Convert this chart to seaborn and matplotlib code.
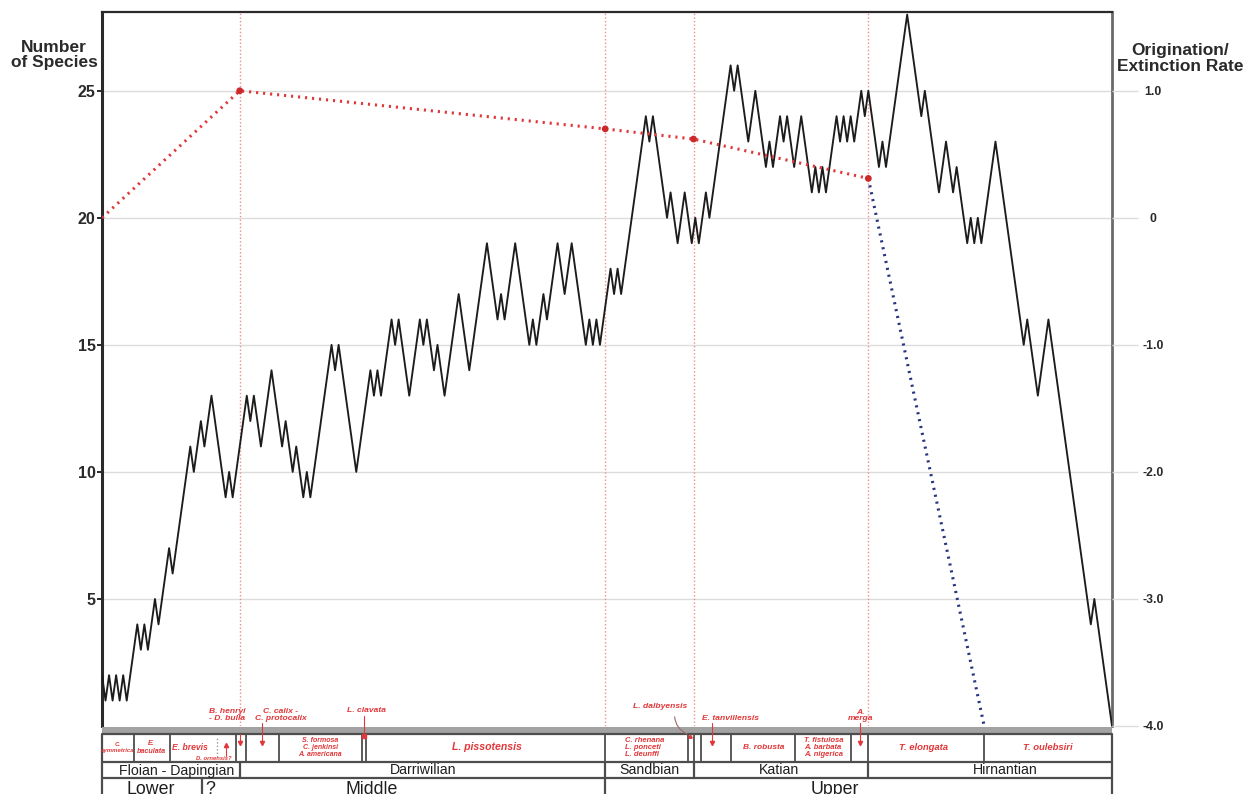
import numpy as np
import pandas as pd
import matplotlib
matplotlib.use("Agg")
import matplotlib.pyplot as plt
from matplotlib.patches import Rectangle
import seaborn as sns

# ---------------------------------------------------------------- data
# species richness at each turning point; every unit change is one event
species_counts = [
    2, 1, 2, 1, 2, 1, 2, 1,
    4, 3, 4, 3, 5, 4, 7, 6, 11, 10, 12, 11, 13, 9, 10, 9, 13, 12, 13, 11,
    14, 11, 12, 10, 11, 9, 10, 9,
    15, 14, 15, 10, 14, 13, 14, 13, 16, 15, 16, 13, 16, 15, 16, 14, 15, 13,
    17, 14, 19, 16, 17, 16, 19, 15, 16, 15, 17, 16, 19, 17, 19, 15, 16, 15,
    16, 15, 18, 17, 18, 17,
    24, 23, 24, 20, 21, 19, 21, 19, 20, 19, 21, 20, 26, 25, 26, 23, 25, 22,
    23, 22, 24, 23, 24, 22, 24, 21, 22, 21, 22, 21, 24, 23, 24, 23, 24, 23,
    25, 24, 25, 22, 23, 22,
    28, 24, 25, 21, 23, 21, 22, 19, 20, 19, 20, 19, 23, 15, 16, 13, 16, 4, 5, 0,
]

# stages and series (boundaries in event units)
stage_names = ["Floian - Dapingian", "Darriwilian", "Sandbian", "Katian", "Hirnantian"]
stage_bounds = [0, 39.0, 142.5, 167.5, 217.0, 286]
stage_label_pos = [21.0, 90.8, 155.0, 191.6, 255.9]

series_names = ["Lower", "Middle", "Upper"]
series_bounds = [0, 28.2, 142.5, 286]
series_label_pos = [13.9, 76.4, 207.6]

# origination / extinction rate at stage boundaries
rate_pos = [0, 39.0, 142.5, 167.5, 217.0]
rate_vals = [0.0, 1.0, 0.70, 0.62, 0.31]
proj_pos = [217.0, 249.8]
proj_vals = [0.31, -4.0]

# biozones
zone_bounds = [0, 9.1, 19.2, 38.0, 40.8, 50.1, 73.5, 74.8, 142.5, 165.8,
               167.5, 169.5, 178.0, 196.2, 212.1, 217.0, 249.8, 286]
zone_labels = ["C.\nsymmetrica", "E.\nbaculata", "E. brevis",
               "S. formosa\nC. jenkinsi\nA. americana", "L. pissotensis",
               "C. rhenana\nL. ponceti\nL. deunffi", "B. robusta",
               "T. fistulosa\nA. barbata\nA. nigerica", "T. elongata", "T. oulebsiri"]
zone_label_pos = [4.5, 14.1, 24.8, 61.8, 109.0, 153.7, 187.3, 204.5, 232.5, 267.9]

# zone markers above the bar
marker_labels = ["B. henryi\n- D. bulla", "C. calix -\nC. protocalix", "L. clavata",
                 "L. dalbyensis", "E. tanvillensis", "A.\nmerga"]
marker_label_pos = [35.5, 50.6, 74.8, 158.1, 178.0, 214.9]

counts = np.array(species_counts)
event_pos = np.concatenate([[0], np.cumsum(np.abs(np.diff(counts)))])
curve = pd.DataFrame({"event": event_pos, "species": counts})
n_events = event_pos[-1]

# ---------------------------------------------------------------- style
sns.set_theme(style="white")
plt.rcParams["font.family"] = ["Liberation Sans", "DejaVu Sans"]

RED = "#e0383a"
RED_LIGHT = "#f08c8c"
BLUE = "#27347f"
DARK = "#2a2a2a"
FRAME = "#4d4d4d"
GRID = "#dcdcdc"

W, H = 1251, 794
fig = plt.figure(figsize=(W / 100, H / 100), dpi=100)


def fx(px):
    return px / W


def fy(py):
    return 1 - py / H


def sy(py):
    # vertical position inside the stratigraphic strip
    return H - py


ax = fig.add_axes([fx(102), fy(726), fx(1112) - fx(102), fy(12) - fy(726)])
ax.set_xlim(0, n_events)
ax.set_ylim(0, 28.1)
ax.set_xticks([])
ax.set_yticks([5, 10, 15, 20, 25])
ax.grid(axis="y", color=GRID, lw=1)
ax.tick_params(axis="y", left=True, length=3.8, width=1.4, color=DARK, pad=0.8,
               labelsize=11.5, labelcolor=DARK)
for lab in ax.get_yticklabels():
    lab.set_fontweight("bold")
for side, lw, col in [("left", 2.2, DARK), ("top", 1.6, DARK), ("right", 2.0, "#6a6a6a")]:
    ax.spines[side].set_linewidth(lw)
    ax.spines[side].set_color(col)
ax.spines["bottom"].set_visible(False)

# stage boundaries
for b in stage_bounds[1:-1]:
    ax.axvline(b, color=RED_LIGHT, lw=1.0, ls=(0, (1, 1.6)), zorder=1)

sns.lineplot(data=curve, x="event", y="species", ax=ax, color="#1c1c1c",
             lw=1.35, estimator=None, sort=False, zorder=3)
ax.set_xlabel("")
ax.set_ylabel("")

# rate axis
ax2 = ax.twinx()
ax2.set_ylim((0 - 20) / 5, (28.1 - 20) / 5)
ax2.set_yticks([1, 0, -1, -2, -3, -4])
ax2.set_yticklabels(["1.0", "0", "-1.0", "-2.0", "-3.0", "-4.0"],
                    fontweight="bold", fontsize=8.8, color=DARK, ha="center")
ax2.tick_params(axis="y", right=True, length=18.7, width=1, color=GRID, pad=10.8)
for s in ax2.spines.values():
    s.set_visible(False)

sns.lineplot(x=rate_pos, y=rate_vals, ax=ax2, color=RED, lw=2.2,
             linestyle=(0, (0.7, 1.6)), estimator=None, sort=False)
sns.lineplot(x=proj_pos, y=proj_vals, ax=ax2, color=BLUE, lw=2.2,
             linestyle=(0, (0.7, 1.6)), estimator=None, sort=False)
sns.scatterplot(x=rate_pos[1:], y=rate_vals[1:], ax=ax2, color="#cc2a2a",
                s=24, edgecolor="none", zorder=5)
ax2.set_xlim(0, n_events)

fig.text(fx(54), fy(55), "Number\nof Species", ha="center", va="center",
         fontsize=12.5, fontweight="bold", color=DARK, linespacing=1.05)
fig.text(fx(1180), fy(58.5), "Origination/\nExtinction Rate", ha="center", va="center",
         fontsize=12.5, fontweight="bold", color=DARK, linespacing=1.05)

# ---------------------------------------------------------------- strip
zs = fig.add_axes([fx(102), 0, fx(1112) - fx(102), fy(726)])
zs.set_xlim(0, n_events)
zs.set_ylim(0, H - 726)
zs.axis("off")
zs.set_zorder(5)
zs.patch.set_visible(False)

zs.add_patch(Rectangle((0, sy(734)), n_events, 7, color="#a2a2a2", lw=0, clip_on=False))
for py in [734, 762, 778]:
    zs.plot([0, n_events], [sy(py), sy(py)], color=FRAME, lw=1.6, clip_on=False,
            solid_capstyle="butt")
for x in [0, n_events]:
    zs.plot([x, x], [sy(796), sy(734)], color=FRAME, lw=1.6, clip_on=False)
for b in zone_bounds[1:-1]:
    zs.plot([b, b], [sy(762), sy(734)], color=FRAME, lw=1.3, clip_on=False)
zs.plot([32.6, 32.6], [sy(757), sy(737)], color="#9a9a9a", lw=1, ls=(0, (1, 1.5)))
for b in stage_bounds[1:-1]:
    zs.plot([b, b], [sy(778), sy(762)], color=FRAME, lw=1.6, clip_on=False)
for b in series_bounds[1:-1]:
    zs.plot([b, b], [sy(796), sy(778)], color=FRAME, lw=1.6, clip_on=False)

zone_style = {
    "C.\nsymmetrica": (4.3, 1.05),
    "E.\nbaculata": (5.2, 1.1),
    "E. brevis": (6.2, 1.1),
    "S. formosa\nC. jenkinsi\nA. americana": (5.0, 1.1),
    "L. pissotensis": (7.6, 1.1),
    "C. rhenana\nL. ponceti\nL. deunffi": (5.5, 1.05),
    "B. robusta": (6.0, 1.1),
    "T. fistulosa\nA. barbata\nA. nigerica": (5.5, 1.05),
    "T. elongata": (6.8, 1.1),
    "T. oulebsiri": (6.8, 1.1),
}
for lab, x in zip(zone_labels, zone_label_pos):
    size, lsp = zone_style[lab]
    zs.text(x, sy(747.5), lab, ha="center", va="center", multialignment="left"
            if lab.startswith(("C. r", "T. f")) else "center",
            fontsize=size, fontweight="bold", fontstyle="italic", color=RED,
            linespacing=lsp, clip_on=False)
zs.text(31.7, sy(758), "D. ornensis?", ha="center", va="center", fontsize=4.2,
        fontweight="bold", fontstyle="italic", color=RED)

marker_y = [715, 715, 711, 707, 718, 715.5]
for lab, x, py in zip(marker_labels, marker_label_pos, marker_y):
    zs.text(x, sy(py), lab, ha="center", va="center", fontsize=6.1,
            fontweight="bold", fontstyle="italic", color=RED, linespacing=1.0,
            clip_on=False)

# range arrows
for x, top in [(39.1, 734), (45.4, 723), (172.6, 723), (214.7, 723)]:
    zs.plot([x, x], [sy(top), sy(742)], color=RED, lw=0.8, clip_on=False)
    zs.plot([x], [sy(743)], marker="v", ms=3, color=RED, clip_on=False)
zs.plot([35.2, 35.2], [sy(756), sy(746)], color=RED, lw=0.8)
zs.plot([35.2], [sy(745)], marker="^", ms=3, color=RED)
zs.plot([74.1, 74.1], [sy(716), sy(734)], color=RED, lw=0.8, clip_on=False)
zs.plot([74.1], [sy(735.5)], marker="s", ms=2.5, color=RED, clip_on=False)
zs.annotate("", xy=(166.4, sy(735)), xytext=(162.1, sy(714)),
            arrowprops=dict(arrowstyle="-", color="#9a6a6a", lw=0.8,
                            connectionstyle="arc3,rad=0.35"), annotation_clip=False)
zs.plot([166.4], [sy(736)], marker="^", ms=2.5, color=RED, clip_on=False)

for name, x in zip(stage_names, stage_label_pos):
    zs.text(x, sy(770.5), name, ha="center", va="center", fontsize=10.2, color="#1e1e1e")
for name, x in zip(series_names, series_label_pos):
    zs.text(x, sy(780.5), name, ha="center", va="top", fontsize=12.8, color="#1e1e1e",
            clip_on=False)
zs.text(29.3, sy(780.5), "?", ha="left", va="top", fontsize=12.8, color="#1e1e1e")

fig.savefig("out.png", dpi=100)
